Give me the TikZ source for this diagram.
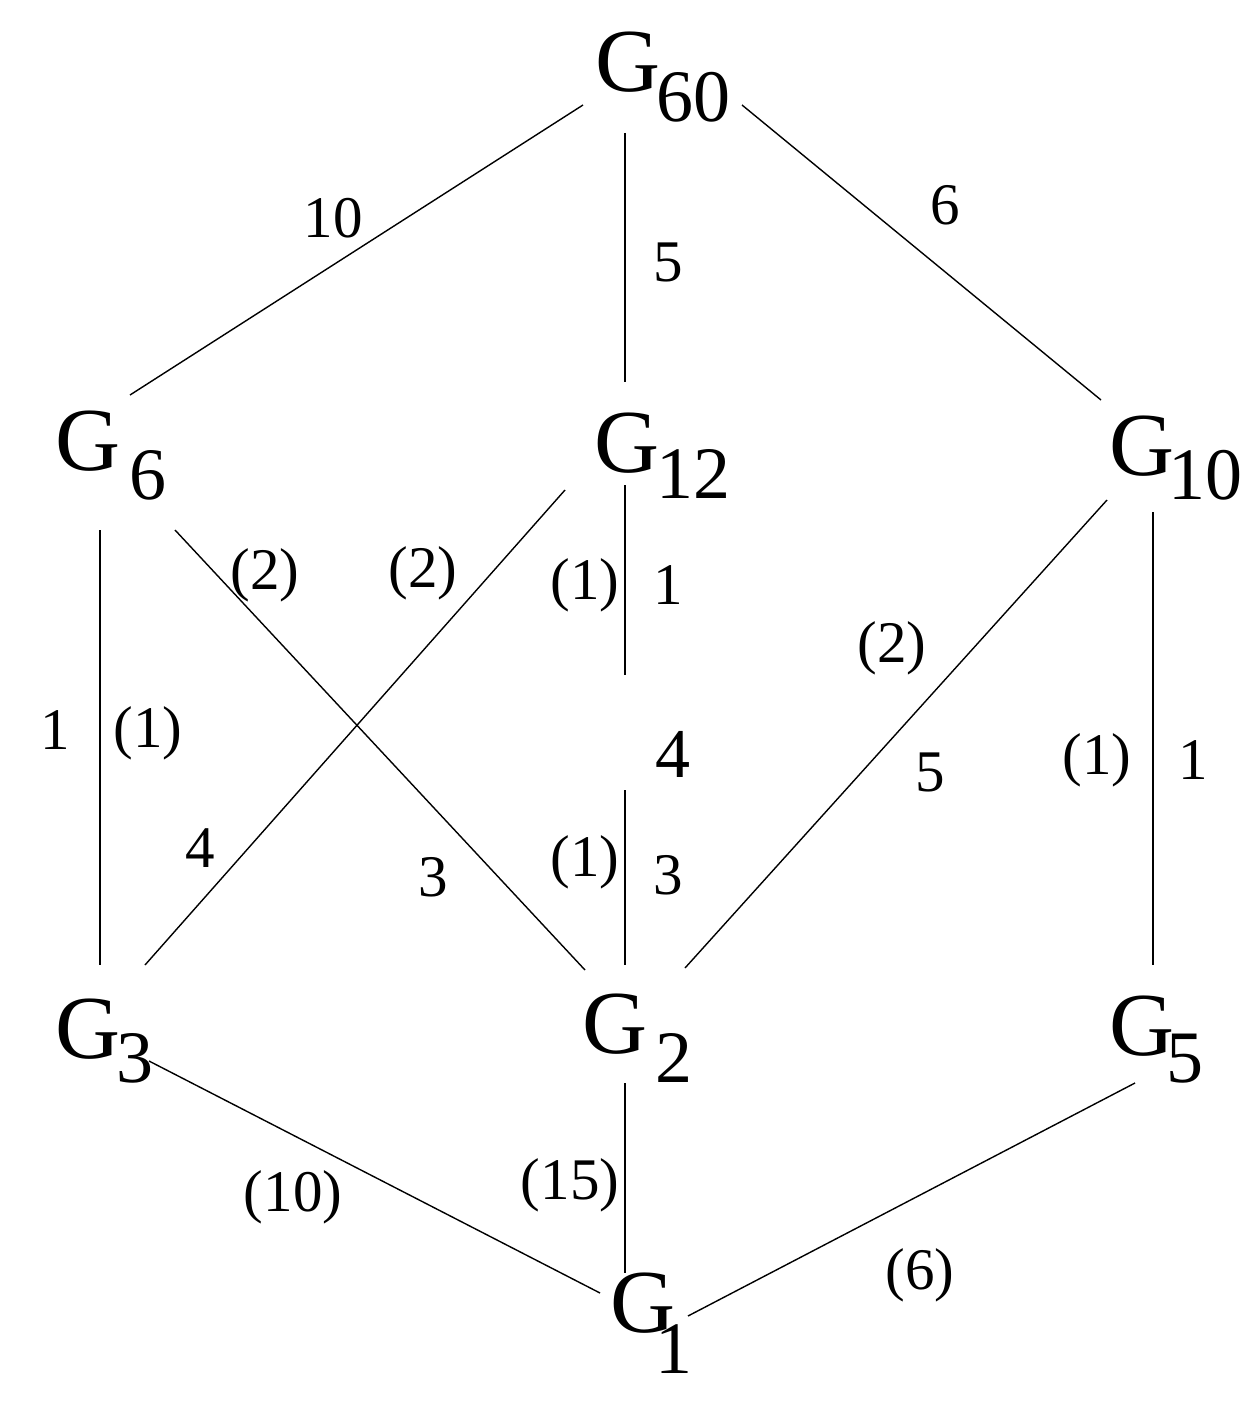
\documentclass[tikz,border=0pt]{standalone}
\usepackage{fontspec}
\setmainfont{Liberation Serif}
\begin{document}
\begin{tikzpicture}[x=1pt,y=-1pt,
  gnode/.style={anchor=base west,inner sep=0pt,outer sep=0pt,font=\fontsize{90}{90}\selectfont},
  lab/.style={inner sep=0pt,font=\fontsize{59}{59}\selectfont},
  edge/.style={line width=1.4pt}]
\useasboundingbox (0,0) rectangle (1257,1404);
\newcommand{\gsub}[3]{G\hspace*{#1pt}\raisebox{#2pt}{\fontsize{74}{74}\selectfont #3}}
% group nodes
\node[gnode] (g60) at (595,92)  {\gsub{-4}{-30}{60}};
\node[gnode] (g6)  at (55,470)  {\gsub{10}{-29}{6}};
\node[gnode] (g12) at (594,472) {\gsub{-3}{-26}{12}};
\node[gnode] (g10) at (1109,475){\gsub{-6}{-24}{10}};
\node[inner sep=0pt,font=\fontsize{70}{70}\selectfont,anchor=base west] (g4) at (655,777) {4};
\node[gnode] (g3)  at (55,1058) {\gsub{-3}{-24}{3}};
\node[gnode] (g2)  at (582,1053){\gsub{8}{-29}{2}};
\node[gnode] (g5)  at (1109,1055){\gsub{-8}{-27}{5}};
\node[gnode] (g1)  at (610,1332){\gsub{-20}{-41}{1}};
% connector end points
\coordinate (g60sw) at (583,105);
\coordinate (g60s)  at (625,133);
\coordinate (g60se) at (742,105);
\coordinate (g6ne)  at (130,395);
\coordinate (g6s)   at (100,530);
\coordinate (g6se)  at (175,530);
\coordinate (g12n)  at (625,382);
\coordinate (g12sw) at (565,490);
\coordinate (g12s)  at (625,485);
\coordinate (g4n)   at (625,675);
\coordinate (g4s)   at (625,790);
\coordinate (g10nw) at (1101,400);
\coordinate (g10sw) at (1107,500);
\coordinate (g10s)  at (1153,512);
\coordinate (g3n)   at (100,965);
\coordinate (g3ne)  at (145,965);
\coordinate (g3se)  at (149,1061);
\coordinate (g2nw)  at (585,970);
\coordinate (g2n)   at (625,965);
\coordinate (g2ne)  at (685,968);
\coordinate (g2s)   at (625,1083);
\coordinate (g5n)   at (1153,965);
\coordinate (g5sw)  at (1135,1083);
\coordinate (g1nw)  at (600,1293);
\coordinate (g1n)   at (625,1273);
\coordinate (g1ne)  at (688,1316);
% connectors
\draw[edge] (g60sw) -- (g6ne);
\draw[edge] (g60s) -- (g12n);
\draw[edge] (g60se) -- (g10nw);
\draw[edge] (g6s) -- (g3n);
\draw[edge] (g6se) -- (g2nw);
\draw[edge] (g12sw) -- (g3ne);
\draw[edge] (g12s) -- (g4n);
\draw[edge] (g4s) -- (g2n);
\draw[edge] (g10sw) -- (g2ne);
\draw[edge] (g10s) -- (g5n);
\draw[edge] (g3se) -- (g1nw);
\draw[edge] (g2s) -- (g1n);
\draw[edge] (g5sw) -- (g1ne);
% labels
\node[lab] (l1) at (333,218) {10};
\node[lab] (l2) at (668,262) {5};
\node[lab] (l3) at (945,205) {6};
\node[lab] (l4) at (265,575) {(2)};
\node[lab] (l5) at (423,573) {(2)};
\node[lab] (l6) at (585,585) {(1)};
\node[lab] (l7) at (668,585) {1};
\node[lab] (l8) at (892,648) {(2)};
\node[lab] (l9) at (55,730) {1};
\node[lab] (l10) at (148,733) {(1)};
\node[lab] (l11) at (930,772) {5};
\node[lab] (l12) at (1097,760) {(1)};
\node[lab] (l13) at (1193,760) {1};
\node[lab] (l14) at (200,848) {4};
\node[lab] (l15) at (433,877) {3};
\node[lab] (l16) at (585,862) {(1)};
\node[lab] (l17) at (668,875) {3};
\node[lab] (l18) at (293,1197) {(10)};
\node[lab] (l19) at (570,1185) {(15)};
\node[lab] (l20) at (920,1275) {(6)};
\end{tikzpicture}
\end{document}
